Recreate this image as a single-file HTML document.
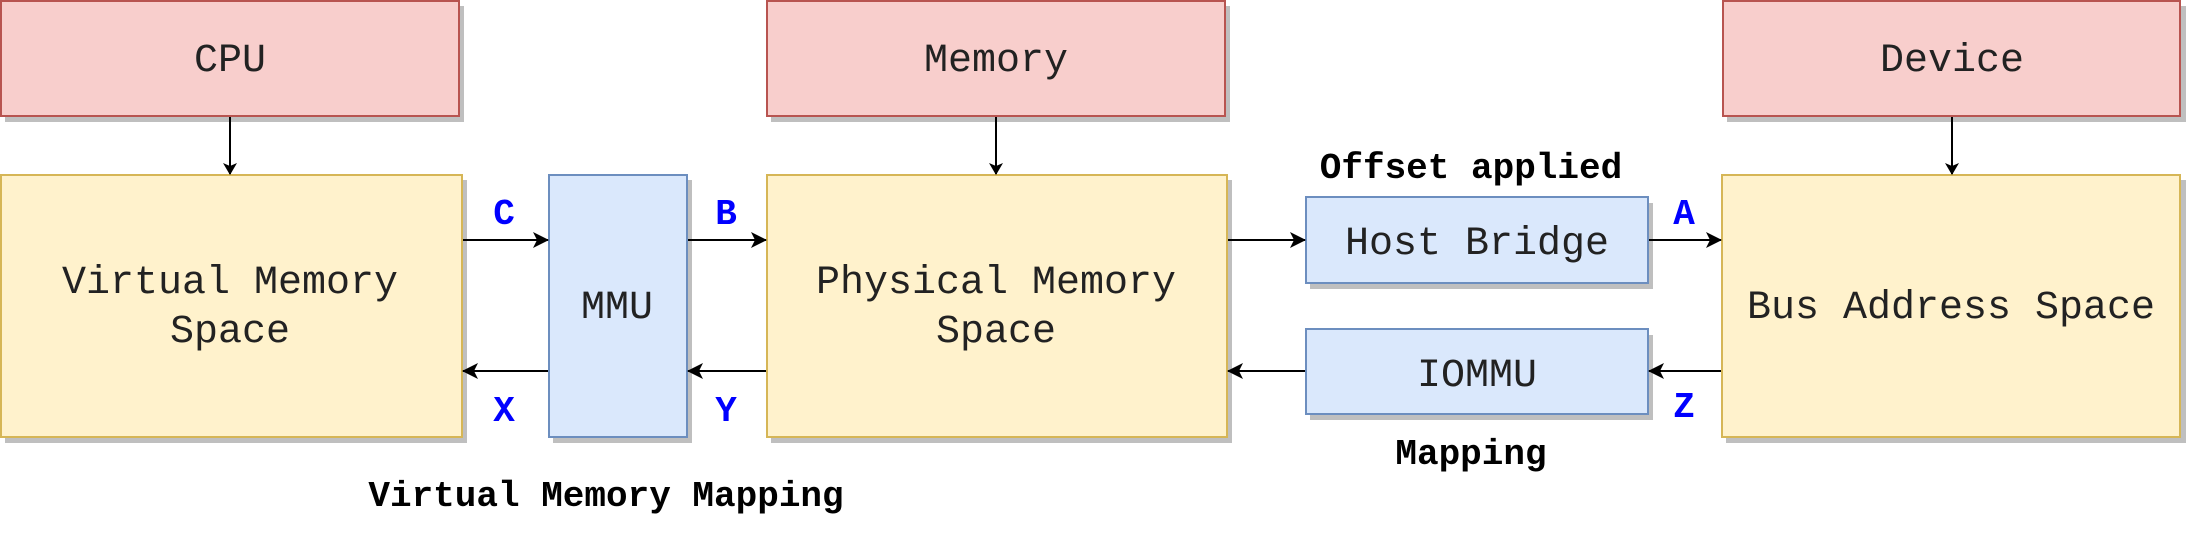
<!DOCTYPE html>
<html><head><meta charset="utf-8"><style>html,body{margin:0;padding:0;background:#fff}svg{display:block}</style></head>
<body>
<svg width="2188" height="552" viewBox="0 0 2188 552" xmlns="http://www.w3.org/2000/svg" font-family="'Liberation Mono', monospace">
<defs>
<marker id="ar" markerWidth="12" markerHeight="14" refX="11" refY="7" orient="auto" markerUnits="userSpaceOnUse" viewBox="0 0 12 14">
<path d="M0,0 L12,7 L0,14 L3,7 Z" fill="#000"/></marker>
<marker id="ar2" markerWidth="16" markerHeight="16" refX="15" refY="8" orient="auto" markerUnits="userSpaceOnUse" viewBox="0 0 16 16">
<path d="M0,0 L16,8 L0,16 L4,8 Z" fill="#000"/></marker>
</defs>
<g fill="#bfbfbf">
<rect x="5" y="6" width="459" height="116"/>
<rect x="771" y="6" width="459" height="116"/>
<rect x="1727" y="6" width="459" height="116"/>
<rect x="5" y="180" width="462" height="263"/>
<rect x="553" y="180" width="139" height="263"/>
<rect x="771" y="180" width="461" height="263"/>
<rect x="1310" y="203" width="343" height="86"/>
<rect x="1310" y="335" width="343" height="85"/>
<rect x="1726" y="180" width="460" height="263"/>
</g>
<g stroke-width="2">
<rect x="1" y="1" width="458" height="115" fill="#f8cecc" stroke="#b85450"/>
<rect x="767" y="1" width="458" height="115" fill="#f8cecc" stroke="#b85450"/>
<rect x="1723" y="1" width="457" height="115" fill="#f8cecc" stroke="#b85450"/>
<rect x="1" y="175" width="461" height="262" fill="#fff2cc" stroke="#d6b656"/>
<rect x="549" y="175" width="138" height="262" fill="#dae8fc" stroke="#6c8ebf"/>
<rect x="767" y="175" width="460" height="262" fill="#fff2cc" stroke="#d6b656"/>
<rect x="1306" y="197" width="342" height="86" fill="#dae8fc" stroke="#6c8ebf"/>
<rect x="1306" y="329" width="342" height="85" fill="#dae8fc" stroke="#6c8ebf"/>
<rect x="1722" y="175" width="458" height="262" fill="#fff2cc" stroke="#d6b656"/>
</g>
<g stroke="#000" stroke-width="2" fill="none">
<line x1="230" y1="117" x2="230" y2="174" marker-end="url(#ar)"/>
<line x1="996" y1="117" x2="996" y2="174" marker-end="url(#ar)"/>
<line x1="1952" y1="117" x2="1952" y2="174" marker-end="url(#ar)"/>
<line x1="463" y1="240" x2="548" y2="240" marker-end="url(#ar2)"/>
<line x1="688" y1="240" x2="766" y2="240" marker-end="url(#ar2)"/>
<line x1="1228" y1="240" x2="1305" y2="240" marker-end="url(#ar2)"/>
<line x1="1649" y1="240" x2="1721" y2="240" marker-end="url(#ar2)"/>
<line x1="548" y1="371" x2="463" y2="371" marker-end="url(#ar2)"/>
<line x1="766" y1="371" x2="688" y2="371" marker-end="url(#ar2)"/>
<line x1="1305" y1="371" x2="1228" y2="371" marker-end="url(#ar2)"/>
<line x1="1721" y1="371" x2="1649" y2="371" marker-end="url(#ar2)"/>
</g>
<g font-size="40" fill="#222" text-anchor="middle">
<text x="230" y="71">CPU</text>
<text x="996" y="71">Memory</text>
<text x="1952" y="71">Device</text>
<text x="230" y="293">Virtual Memory</text>
<text x="230" y="342">Space</text>
<text x="617" y="318">MMU</text>
<text x="996" y="293">Physical Memory</text>
<text x="996" y="342">Space</text>
<text x="1477" y="254">Host Bridge</text>
<text x="1477" y="386">IOMMU</text>
<text x="1951" y="318">Bus Address Space</text>
</g>
<g font-size="36" font-weight="bold" fill="#000" text-anchor="middle">
<text x="1471" y="178">Offset applied</text>
<text x="1471" y="464">Mapping</text>
<text x="606" y="506">Virtual Memory Mapping</text>
</g>
<g font-size="36" font-weight="bold" fill="#0000ff" text-anchor="middle">
<text x="504" y="224">C</text>
<text x="726" y="224">B</text>
<text x="1684" y="224">A</text>
<text x="504" y="421">X</text>
<text x="726" y="421">Y</text>
<text x="1684" y="417">Z</text>
</g>
</svg>
</body></html>
